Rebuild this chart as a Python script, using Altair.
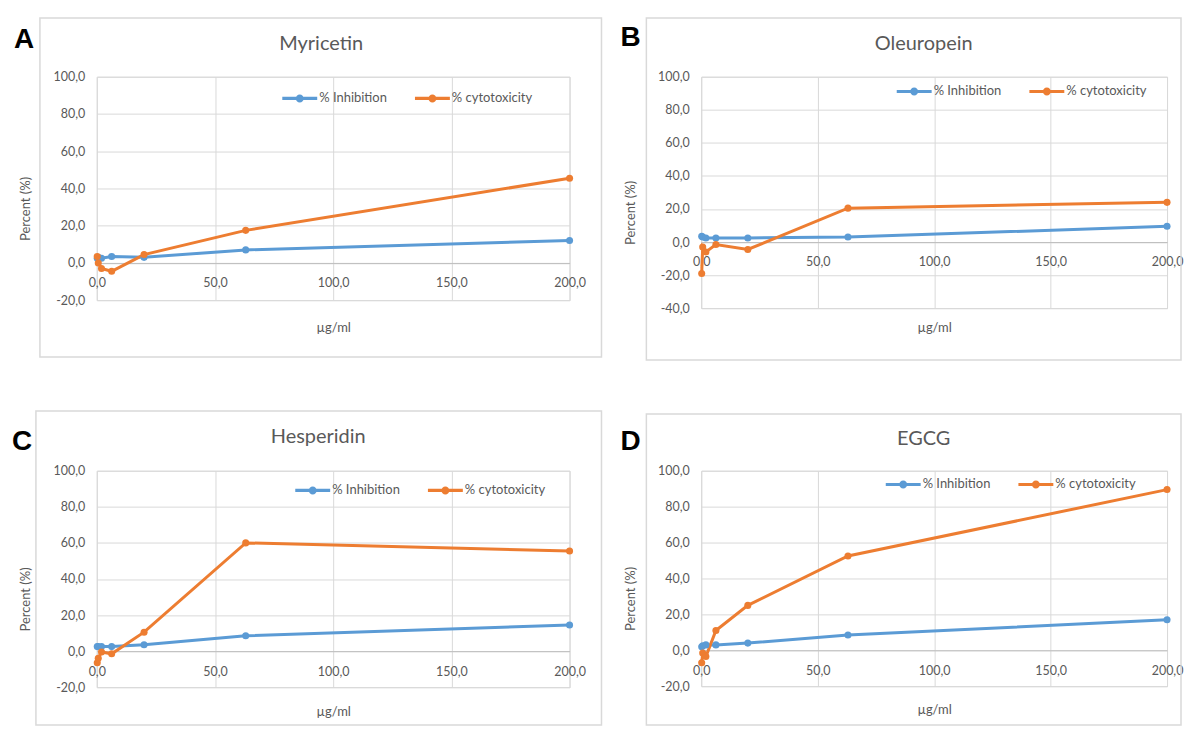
import altair as alt
import pandas as pd

# ---- data ----
conc = [0.2, 0.63, 2.0, 6.3, 20.0, 63.0, 200.0]  # µg/ml
series_names = ["% Inhibition", "% cytotoxicity"]

myricetin_inhibition = [2.5, 3.0, 2.5, 3.5, 3.0, 7.0, 12.0]
myricetin_cytotoxicity = [3.5, 0.0, -3.0, -4.5, 4.5, 17.5, 45.5]
oleuropein_inhibition = [3.5, 3.0, 2.5, 2.5, 2.5, 3.0, 9.5]
oleuropein_cytotoxicity = [-19.0, -3.0, -6.0, -1.5, -4.5, 20.5, 24.0]
hesperidin_inhibition = [2.5, 2.5, 2.5, 2.5, 3.5, 8.5, 14.5]
hesperidin_cytotoxicity = [-6.5, -4.0, -0.5, -1.5, 10.5, 60.0, 55.5]
egcg_inhibition = [2.0, 2.5, 3.0, 3.0, 4.0, 8.5, 17.0]
egcg_cytotoxicity = [-7.0, -1.5, -3.5, 11.0, 25.0, 52.5, 89.5]

x_ticks = [0, 50, 100, 150, 200]

BLUE = "#5B9BD5"
ORANGE = "#ED7D31"
GRID = "#D9D9D9"
TXT = "#595959"
FONT = "Lato"

FMT = "(datum.value < 0 ? '-' : '') + replace(format(abs(datum.value), '.1f'), '.', ',')"
SYMBOL = ("M-1,-0.09H1V0.09H-1Z "
          "M0.23,0A0.23,0.23,0,1,1,-0.23,0A0.23,0.23,0,1,1,0.23,0Z")

one = pd.DataFrame({"k": [0]})


def panel(title, letter, inh, cyt, ymin, w, h, g):
    df = pd.DataFrame({
        "conc": conc + conc,
        "pct": inh + cyt,
        "series": [series_names[0]] * len(conc) + [series_names[1]] * len(conc),
    })
    zero_y = h * 100.0 / (100.0 - ymin)          # pixel position of y = 0 from top
    below = h - zero_y
    y_ticks = list(range(int(ymin), 101, 20))
    xs = alt.Scale(domain=[0, 200], nice=False, zero=False)
    ys = alt.Scale(domain=[ymin, 100], nice=False, zero=False)
    x_axis = alt.Axis(values=x_ticks, tickCount=len(x_ticks), labelExpr=FMT,
                      grid=True, gridColor=GRID,
                      domain=True, domainColor="#BFBFBF", domainWidth=1,
                      ticks=False, offset=-below, labelPadding=14, labelOverlap=False,
                      labelFlush=False,
                      labelFont=FONT, labelFontSize=12.5, labelColor=TXT,
                      title="µg/ml", titleFont=FONT, titleFontSize=13,
                      titleFontWeight="normal", titleColor=TXT,
                      titleY=below + g["xt"], titleBaseline="middle")
    y_axis = alt.Axis(values=y_ticks, tickCount=len(y_ticks), labelExpr=FMT,
                      grid=True, gridColor=GRID, domain=False, ticks=False,
                      labelOverlap=False, labelFlush=False,
                      labelPadding=12, labelFont=FONT, labelFontSize=12.5,
                      labelColor=TXT, title="Percent (%)", titleFont=FONT,
                      titleFontSize=13, titleFontWeight="normal", titleColor=TXT,
                      titleX=-71, titleY=h / 2 + 20, titleAngle=270,
                      titleAlign="center", titleBaseline="middle")
    color_scale = alt.Scale(domain=series_names, range=[BLUE, ORANGE])
    base = alt.Chart(df)
    line_inh = base.transform_filter(alt.datum.series == series_names[0]).mark_line(
        strokeWidth=3, color=BLUE).encode(
        x=alt.X("conc:Q", scale=xs, axis=x_axis),
        y=alt.Y("pct:Q", scale=ys, axis=y_axis),
        order="conc:Q",
    )
    line_cyt = base.transform_filter(alt.datum.series == series_names[1]).mark_line(
        strokeWidth=3, color=ORANGE).encode(
        x="conc:Q", y="pct:Q", order="conc:Q",
    )
    pts = base.mark_point(filled=True, size=50, opacity=1).encode(
        x="conc:Q", y="pct:Q",
        color=alt.Color("series:N", scale=color_scale,
                        legend=alt.Legend(orient="none", legendX=g["lx"], legendY=g["ly"],
                                          direction="horizontal", columns=2, title=None,
                                          symbolType=SYMBOL, symbolSize=1225,
                                          symbolStrokeWidth=0, symbolOpacity=1,
                                          labelFont=FONT, labelFontSize=13,
                                          labelColor=TXT, labelOffset=2,
                                          columnPadding=28, padding=0)),
    )
    border = alt.Chart(one).mark_rect(fill="white", fillOpacity=0, stroke=GRID,
                                      strokeWidth=1.5).encode(
        x=alt.value(g["bx1"]), x2=alt.value(g["bx2"]),
        y=alt.value(g["by1"]), y2=alt.value(g["by2"]))
    ttl = alt.Chart(one).mark_text(text=title, font=FONT, fontSize=20, color=TXT,
                                   align="center", baseline="middle").encode(
        x=alt.value(g["tx"]), y=alt.value(g["ty"]))
    let = alt.Chart(one).mark_text(text=letter, font="Liberation Sans", fontSize=28,
                                   fontWeight="bold", color="black",
                                   align="left", baseline="alphabetic").encode(
        x=alt.value(g["ax"]), y=alt.value(g["ay"]))
    return alt.layer(border, line_inh, line_cyt, pts, ttl, let).properties(width=w, height=h)


pA = panel("Myricetin", "A", myricetin_inhibition, myricetin_cytotoxicity, -20, 474, 224,
           dict(xt=27, lx=186, ly=4, bx1=-57, bx2=506, by1=-59, by2=281,
                tx=225, ty=-33, ax=-83, ay=-29))
pB = panel("Oleuropein", "B", oleuropein_inhibition, oleuropein_cytotoxicity, -40, 467, 232,
           dict(xt=19, lx=196, ly=-3, bx1=-55, bx2=481, by1=-59, by2=284,
                tx=223, ty=-33, ax=-81, ay=-31))
pC = panel("Hesperidin", "C", hesperidin_inhibition, hesperidin_cytotoxicity, -20, 474, 217,
           dict(xt=24, lx=199, ly=2, bx1=-61, bx2=506, by1=-60, by2=255,
                tx=222, ty=-34, ax=-85, ay=-21))
pD = panel("EGCG", "D", egcg_inhibition, egcg_cytotoxicity, -20, 467, 216,
           dict(xt=23, lx=185, ly=-4, bx1=-55, bx2=481, by1=-57, by2=255,
                tx=223, ty=-32, ax=-81, ay=-21))

chart = alt.concat(pA, pB, pC, pD, columns=2, spacing={"row": 163, "column": 132},
                   bounds="flush").resolve_scale(
    x="independent", y="independent", color="independent"
).properties(
    padding={"left": 3, "top": 7, "right": 0, "bottom": 0},
    background="white",
).configure_view(stroke=GRID, strokeWidth=1)

chart.save("out.html", embed_options={"renderer": "svg", "actions": False})
